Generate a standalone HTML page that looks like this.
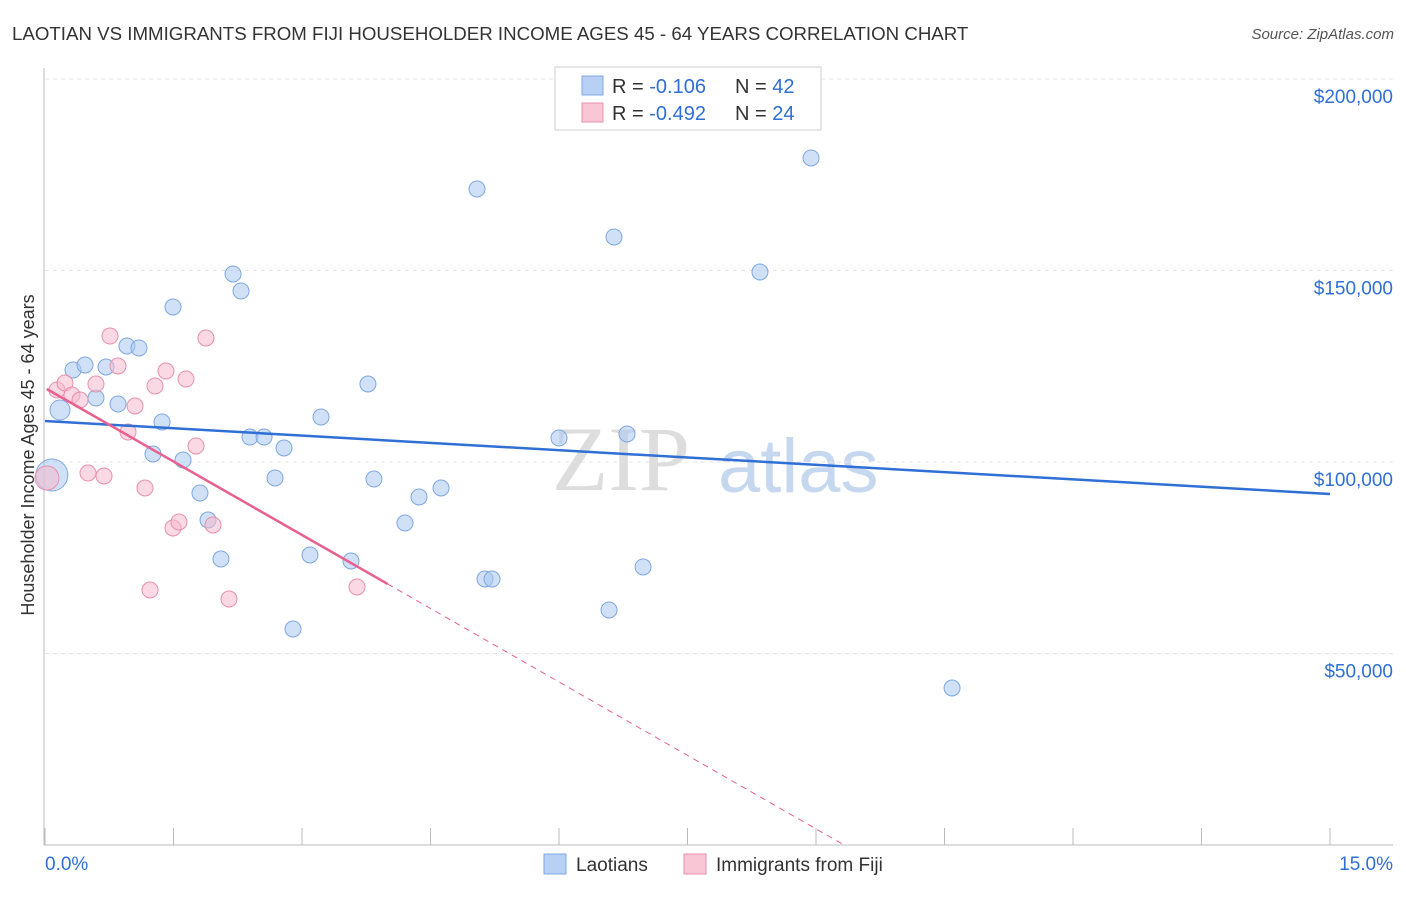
<!DOCTYPE html>
<html><head><meta charset="utf-8"><style>
body{margin:0;background:#fff;font-family:"Liberation Sans",sans-serif;}
</style></head><body>
<svg id="chart" width="1406" height="892" xmlns="http://www.w3.org/2000/svg" font-family="Liberation Sans, sans-serif">
<text x="12" y="40" font-size="18.7" fill="#333">LAOTIAN VS IMMIGRANTS FROM FIJI HOUSEHOLDER INCOME AGES 45 - 64 YEARS CORRELATION CHART</text>
<text x="1394" y="39" font-size="15" fill="#555" text-anchor="end" font-style="italic">Source: ZipAtlas.com</text>
<g>
<text x="552" y="490" font-size="92" fill="#ddd" font-family="Liberation Serif, serif">ZIP</text>
<text x="718" y="492" font-size="76" fill="#c6d8ef">atlas</text>
</g>
<g id="grid"></g>
<g id="axes"></g>
<g id="marks"></g>
<text transform="translate(34,455) rotate(-90)" font-size="18" fill="#333" text-anchor="middle">Householder Income Ages 45 - 64 years</text>
<g>
<rect x="555" y="67" width="266" height="63" fill="#fff" stroke="#ccc"/>
<rect x="582" y="76" width="21" height="19" fill="#b7d0f3" stroke="#7fa8e0"/>
<rect x="582" y="103" width="21" height="19" fill="#f9c6d6" stroke="#e890ac"/>
<text x="612" y="93" font-size="20" fill="#333">R = <tspan fill="#2f6fd6">-0.106</tspan></text>
<text x="735" y="93" font-size="20" fill="#333">N = <tspan fill="#2f6fd6">42</tspan></text>
<text x="612" y="120" font-size="20" fill="#333">R = <tspan fill="#2f6fd6">-0.492</tspan></text>
<text x="735" y="120" font-size="20" fill="#333">N = <tspan fill="#2f6fd6">24</tspan></text>
</g>
<g>
<rect x="544" y="854" width="22" height="20" fill="#b7d0f3" stroke="#7fa8e0"/>
<text x="576" y="871" font-size="19" fill="#333">Laotians</text>
<rect x="684" y="854" width="22" height="20" fill="#f9c6d6" stroke="#e890ac"/>
<text x="716" y="871" font-size="19" fill="#333">Immigrants from Fiji</text>
</g>
</svg>
<script>
const yTicks=[50000,100000,150000,200000];
const yTickLabels=["$50,000","$100,000","$150,000","$200,000"];
const xTicks=[0,1.5,3,4.5,6,7.5,9,10.5,12,13.5,15];
const laoX=[0.08,0.175,0.327,0.467,0.595,0.712,0.852,0.957,1.097,1.261,1.366,1.494,1.611,1.809,1.903,2.054,2.195,2.288,2.393,2.557,2.685,2.790,2.895,3.093,3.222,3.572,3.770,3.840,4.202,4.366,4.623,5.043,5.136,5.218,6.000,6.584,6.642,6.794,6.981,8.346,8.942,10.588];
const laoY=[96606,113577,124021,125327,116710,124805,115144,130288,129766,102089,110444,140471,100522,91906,84856,74674,149088,144649,106527,106527,95822,103655,56396,75718,111749,74152,120366,95561,84073,90862,93212,171279,69452,69452,106266,61358,158747,107311,72585,149610,179376,40993];
const fijiX=[0.023,0.140,0.233,0.315,0.409,0.502,0.595,0.689,0.759,0.852,0.969,1.051,1.167,1.226,1.284,1.412,1.494,1.564,1.646,1.763,1.879,1.961,2.148,3.642];
const fijiY=[95822,118799,120627,117494,116188,97128,120366,96345,132899,125066,107833,114622,93212,66578,119844,123760,82767,84334,121671,104178,132377,83550,64228,67361];
const laoTrend=[110705,91645];
const fijiTrend=[119320,-12790];
const NS="http://www.w3.org/2000/svg";
const X=v=>45+v/15*1285;
const Y=v=>845-v/50000*191.5;
function mk(t,a,p){const e=document.createElementNS(NS,t);for(const k in a)e.setAttribute(k,a[k]);p.appendChild(e);return e;}
const grid=document.getElementById('grid'),axes=document.getElementById('axes'),marks=document.getElementById('marks');
yTicks.forEach((t,i)=>{
const l=mk('line',{x1:45,x2:1393,y1:Y(t),y2:Y(t),stroke:'#e4e4e4','stroke-dasharray':'4,4'},grid);


const tx=mk('text',{x:1393,y:Y(t)+24,'font-size':19,fill:'#2f6fd6','text-anchor':'end'},axes);
tx.textContent=yTickLabels[i];


});
mk('line',{x1:45,x2:1393,y1:79,y2:79,stroke:'#e4e4e4','stroke-dasharray':'4,4'},grid);
mk('line',{x1:44,x2:44,y1:68,y2:845,stroke:'#bbb'},axes);
mk('line',{x1:44,x2:1393,y1:845,y2:845,stroke:'#bbb'},axes);
xTicks.forEach(t=>{
const l=mk('line',{x1:X(t),x2:X(t),y1:828,y2:845,stroke:'#bbb'},axes);


});
const x0=mk('text',{x:45,y:870,'font-size':19,fill:'#2f6fd6'},axes);x0.textContent="0.0%";


const x1=mk('text',{x:1393,y:870,'font-size':19,fill:'#2f6fd6','text-anchor':'end'},axes);x1.textContent="15.0%";


laoX.forEach((x,i)=>{
const c=mk('circle',{cx:X(x),cy:Y(laoY[i]),r:i==0?16:(i==1?10:8),fill:'rgba(170,200,240,0.55)',stroke:'#7fa8e0','stroke-width':1},marks);


});
fijiX.forEach((x,i)=>{
const c=mk('circle',{cx:X(x),cy:Y(fijiY[i]),r:i==0?12:8,fill:'rgba(246,185,205,0.55)',stroke:'#e890ac','stroke-width':1},marks);


});
const bl=mk('line',{x1:X(0),y1:Y(laoTrend[0]),x2:X(15),y2:Y(laoTrend[1]),stroke:'#2f6fd6','stroke-width':2.5},marks);


const fz=-fijiTrend[0]/fijiTrend[1];
const pd=mk('line',{x1:X(4),y1:Y(fijiTrend[0]+fijiTrend[1]*4),x2:X(fz),y2:Y(0),stroke:'#e8608e','stroke-width':1,'stroke-dasharray':'6,5'},marks);


const pl=mk('line',{x1:X(0.02),y1:Y(fijiTrend[0]+fijiTrend[1]*0.02),x2:X(4),y2:Y(fijiTrend[0]+fijiTrend[1]*4),stroke:'#e8608e','stroke-width':2.5},marks);


</script>
</body></html>
